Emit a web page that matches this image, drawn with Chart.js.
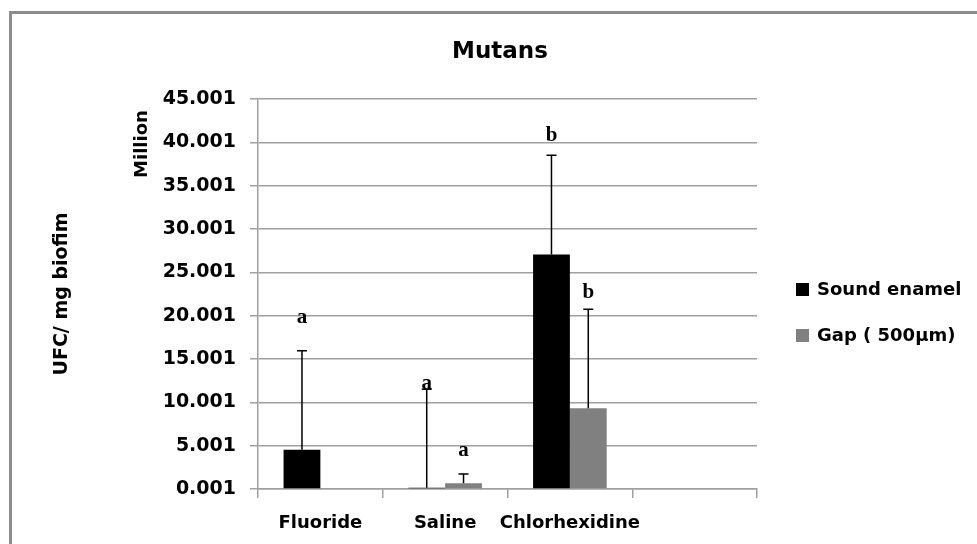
<!DOCTYPE html>
<html>
<head>
<meta charset="utf-8">
<script src="https://cdn.jsdelivr.net/npm/chart.js@4/dist/chart.umd.min.js"></script>
<style>
html, body { margin: 0; padding: 0; background: #fff; }
#wrap { position: relative; width: 977px; height: 544px; overflow: hidden; }
#frame { position: absolute; left: 9px; top: 11px; width: 1000px; height: 560px; border: 3px solid #8c8c8c; box-sizing: border-box; }
canvas { position: absolute; left: 0; top: 0; }
</style>
</head>
<body>
<div id="wrap">
  <div id="frame"></div>
  <canvas id="chart" width="977" height="544"></canvas>
</div>
<script>
// values (million UFC / mg biofilm)
const categories = ['Fluoride', 'Saline', 'Chlorhexidine', ''];
const soundEnamel = [4.53, 0.15, 27.07, null];
const soundEnamelErr = [11.43, 11.35, 11.43, null];
const gapValues = [null, 0.66, 9.31, null];
const gapErr = [null, 1.07, 11.42, null];

// significance letters and the axis value of their baseline
const soundLetters = ['a', 'a', 'b', ''];
const soundLetterAt = [19.15, 11.55, 40.2, null];
const gapLetters = ['', 'a', 'b', ''];
const gapLetterAt = [null, 3.8, 22.0, null];

const yTickLabels = ['0.001', '5.001', '10.001', '15.001', '20.001', '25.001', '30.001', '35.001', '40.001', '45.001'];

const seriesNames = ['Sound enamel', 'Gap ( 500\u00b5m)'];
const seriesColors = ['#000000', '#808080'];

const sans = '"DejaVu Sans", sans-serif';
const gridGray = '#a0a0a0';

// error bars (upper half only) + letters
const errorBars = {
  id: 'errorBars',
  afterDatasetsDraw(chart) {
    const ctx = chart.ctx;
    const y = chart.scales.y;
    const errs = [soundEnamelErr, gapErr];
    const letters = [soundLetters, gapLetters];
    const letterAt = [soundLetterAt, gapLetterAt];
    ctx.save();
    chart.data.datasets.forEach((ds, di) => {
      const meta = chart.getDatasetMeta(di);
      meta.data.forEach((bar, i) => {
        const v = ds.data[i];
        if (v !== null && errs[di][i] !== null) {
          const y0 = y.getPixelForValue(v);
          const y1 = y.getPixelForValue(v + errs[di][i]);
          ctx.strokeStyle = '#000';
          ctx.lineWidth = 1.5;
          ctx.beginPath();
          ctx.moveTo(bar.x, y0);
          ctx.lineTo(bar.x, y1);
          ctx.moveTo(bar.x - 5, y1);
          ctx.lineTo(bar.x + 5, y1);
          ctx.stroke();
        }
        if (letters[di][i]) {
          ctx.fillStyle = '#000';
          ctx.font = 'bold 21px "Liberation Serif", serif';
          ctx.textAlign = 'center';
          ctx.textBaseline = 'alphabetic';
          ctx.fillText(letters[di][i], bar.x, y.getPixelForValue(letterAt[di][i]));
        }
      });
    });
    ctx.restore();
  }
};

// "Million" unit label and the legend on the right
const extras = {
  id: 'extras',
  afterDraw(chart) {
    const ctx = chart.ctx;
    const area = chart.chartArea;
    ctx.save();
    ctx.fillStyle = '#000';
    ctx.font = 'bold 18px ' + sans;
    ctx.textAlign = 'center';
    ctx.textBaseline = 'middle';
    ctx.translate(area.left - 116, area.top + 45);
    ctx.rotate(-Math.PI / 2);
    ctx.fillText('Million', 0, 0);
    ctx.restore();

    ctx.save();
    ctx.font = 'bold 18px ' + sans;
    ctx.textAlign = 'left';
    ctx.textBaseline = 'middle';
    chart.data.datasets.forEach((ds, i) => {
      const lx = area.right + 39;
      const ly = area.top + 191 + i * 46;
      ctx.fillStyle = ds.backgroundColor;
      ctx.fillRect(lx, ly - 7, 13, 13);
      ctx.fillStyle = '#000';
      ctx.fillText(ds.label, lx + 21, ly);
    });
    ctx.restore();
  }
};

const ctx = document.getElementById('chart').getContext('2d');
const chart = new Chart(ctx, {
  type: 'bar',
  data: {
    labels: categories,
    datasets: [
      { label: seriesNames[0], data: soundEnamel, backgroundColor: seriesColors[0] },
      { label: seriesNames[1], data: gapValues, backgroundColor: seriesColors[1] }
    ]
  },
  options: {
    responsive: false,
    animation: false,
    devicePixelRatio: 1,
    categoryPercentage: 0.59,
    barPercentage: 1.0,
    layout: { padding: { left: 48, right: 25, top: 0, bottom: 0 } },
    plugins: {
      legend: { display: false },
      tooltip: { enabled: false },
      title: {
        display: true,
        text: 'Mutans',
        color: '#000',
        font: { family: sans, size: 23, weight: 'bold' },
        padding: { top: 38, bottom: 33.4 }
      }
    },
    scales: {
      x: {
        offset: true,
        afterFit(scale) { scale.height = 55; },
        grid: { offset: true, drawOnChartArea: false, drawTicks: true, tickLength: 9, color: gridGray, lineWidth: 1.5 },
        border: { color: gridGray, width: 1.5 },
        ticks: { color: '#000', font: { family: sans, size: 18, weight: 'bold' }, padding: 15, maxRotation: 0, autoSkip: false }
      },
      y: {
        min: 0,
        max: 45,
        afterFit(scale) { scale.width = 210; },
        grid: { color: gridGray, lineWidth: 1.5, tickLength: 8 },
        border: { color: gridGray, width: 1.5 },
        ticks: {
          stepSize: 5,
          color: '#000',
          font: { family: sans, size: 19, weight: 'bold' },
          padding: 14,
          callback: (v, i) => yTickLabels[i]
        },
        title: {
          display: true,
          text: 'UFC/ mg biofim',
          color: '#000',
          font: { family: sans, size: 19, weight: 'bold' },
          padding: { top: 3, bottom: 0 }
        }
      },
      // empty right-hand space that holds the legend
      side: {
        position: 'right',
        afterFit(scale) { scale.width = 195; },
        grid: { display: false },
        border: { display: false },
        ticks: { display: false }
      }
    }
  },
  plugins: [errorBars, extras]
});
</script>
</body>
</html>
